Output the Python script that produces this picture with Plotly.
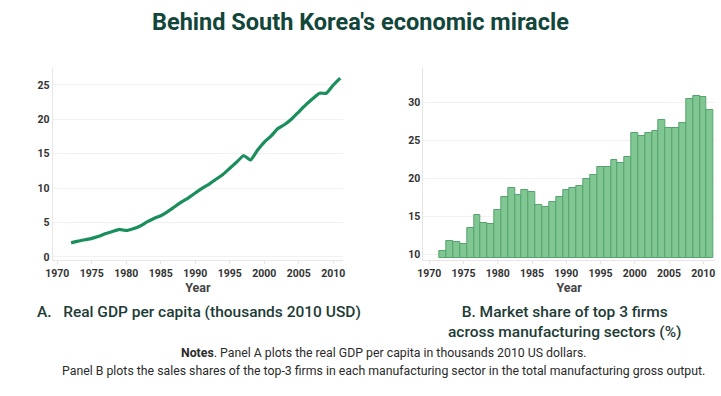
import plotly.graph_objects as go

years = list(range(1972, 2012))
gdp = [2.05, 2.3, 2.5, 2.7, 3.0, 3.4, 3.7, 4.0, 3.85, 4.1, 4.5, 5.1, 5.6, 6.0, 6.6, 7.3, 8.0, 8.6,
       9.3, 10.0, 10.6, 11.3, 12.0, 12.9, 13.8, 14.75, 14.1, 15.5, 16.7, 17.6, 18.7, 19.3, 20.1,
       21.1, 22.1, 23.0, 23.8, 23.8, 25.0, 26.0]
share = [10.45, 11.7, 11.6, 11.3, 13.5, 15.15, 14.05, 13.95, 15.8, 17.6, 18.75, 17.8, 18.4, 18.2,
         16.5, 16.2, 16.9, 17.6, 18.4, 18.75, 19.05, 19.95, 20.5, 21.5, 21.45, 22.4, 22.0, 22.8,
         26.0, 25.55, 25.95, 26.3, 27.7, 26.65, 26.65, 27.3, 30.55, 30.9, 30.8, 29.0]
left_ticks = [0, 5, 10, 15, 20, 25]
right_ticks = [10, 15, 20, 25, 30]
year_ticks = list(range(1970, 2011, 5))

title = "Behind South Korea's economic miracle"
cap_a = "A.   Real GDP per capita (thousands 2010 USD)"
cap_b = "B. Market share of top 3 firms<br>across manufacturing sectors (%)"
note1 = "<b>Notes</b>. Panel A plots the real GDP per capita in thousands 2010 US dollars."
note2 = "Panel B plots the sales shares of the top-3 firms in each manufacturing sector in the total manufacturing gross output."

W, H = 721, 396
FONT = "Roboto"
GREEN_LINE = "#1a8f5c"
BAR_FILL = "#80c793"
BAR_LINE = "#56a46d"
TITLE_C = "#12463a"
CAP_C = "#1d3b35"

def px(x):
    return x / W

def py(y):
    return 1 - y / H

fig = go.Figure()
fig.add_trace(go.Scatter(x=years, y=gdp, mode="lines",
                         line=dict(color=GREEN_LINE, width=3.2, shape="spline", smoothing=0.4),
                         xaxis="x", yaxis="y", showlegend=False))
base = 9.5
fig.add_trace(go.Bar(x=years, y=[v - base for v in share], base=base,
                     marker=dict(color=BAR_FILL, line=dict(color=BAR_LINE, width=1)),
                     width=1.0, xaxis="x2", yaxis="y2", showlegend=False))

tickfont = dict(family=FONT, size=10.5, color="#333333", weight="bold")
axis_common = dict(showline=True, linecolor="#e6e6e6", linewidth=1, zeroline=False, automargin=False)
xtitle = dict(text="<b>Year</b>", font=dict(family=FONT, size=12.5, color="#444444"), standoff=4)

fig.update_layout(
    template="none",
    width=W, height=H,
    margin=dict(l=0, r=0, t=0, b=0, autoexpand=False),
    paper_bgcolor="white", plot_bgcolor="white",
    bargap=0,
    font=dict(family=FONT),
    xaxis=dict(domain=[px(52.7), px(343)], range=[1969.33, 2011.4], tickvals=year_ticks,
               ticks="outside", ticklen=3, tickcolor="#e6e6e6", tickfont=tickfont,
               showgrid=False, anchor="y", title=xtitle, **axis_common),
    yaxis=dict(domain=[py(260), py(68)], range=[-0.44, 27.47], tickvals=left_ticks,
               showgrid=True, gridcolor="#f1f1f1", tickfont=tickfont, ticks="", anchor="x",
               **axis_common),
    xaxis2=dict(domain=[px(423.3), px(715)], range=[1969.12, 2011.71], tickvals=year_ticks,
                ticks="outside", ticklen=3, tickcolor="#e6e6e6", tickfont=tickfont,
                showgrid=False, anchor="y2", title=xtitle, **axis_common),
    yaxis2=dict(domain=[py(260), py(68)], range=[9.21, 34.59], tickvals=right_ticks,
                showgrid=True, gridcolor="#f1f1f1", tickfont=tickfont, ticks="", anchor="x2",
                **axis_common),
)

def ann(text, x, y, size, color, xanchor="center", weight=None):
    f = dict(family=FONT, size=size, color=color)
    if weight:
        f["weight"] = weight
    fig.add_annotation(text=text, x=px(x), y=py(y), xref="paper", yref="paper",
                       xanchor=xanchor, yanchor="middle", align="center",
                       showarrow=False, font=f)

ann(f"<b>{title}</b>", 360, 22, 23.5, TITLE_C)
ann(cap_a, 35, 312, 15.5, CAP_C, xanchor="left", weight=500)
ann(cap_b, 565, 321.5, 15.5, CAP_C, weight=500)
ann(note1, 384, 353, 12.3, "#2a2a2a")
ann(note2, 383, 371, 12.3, "#2a2a2a")

fig.write_html(
    "out.html",
    config={"displayModeBar": False},
    post_script="document.body.style.margin='0';document.body.style.overflow='hidden';",
)
